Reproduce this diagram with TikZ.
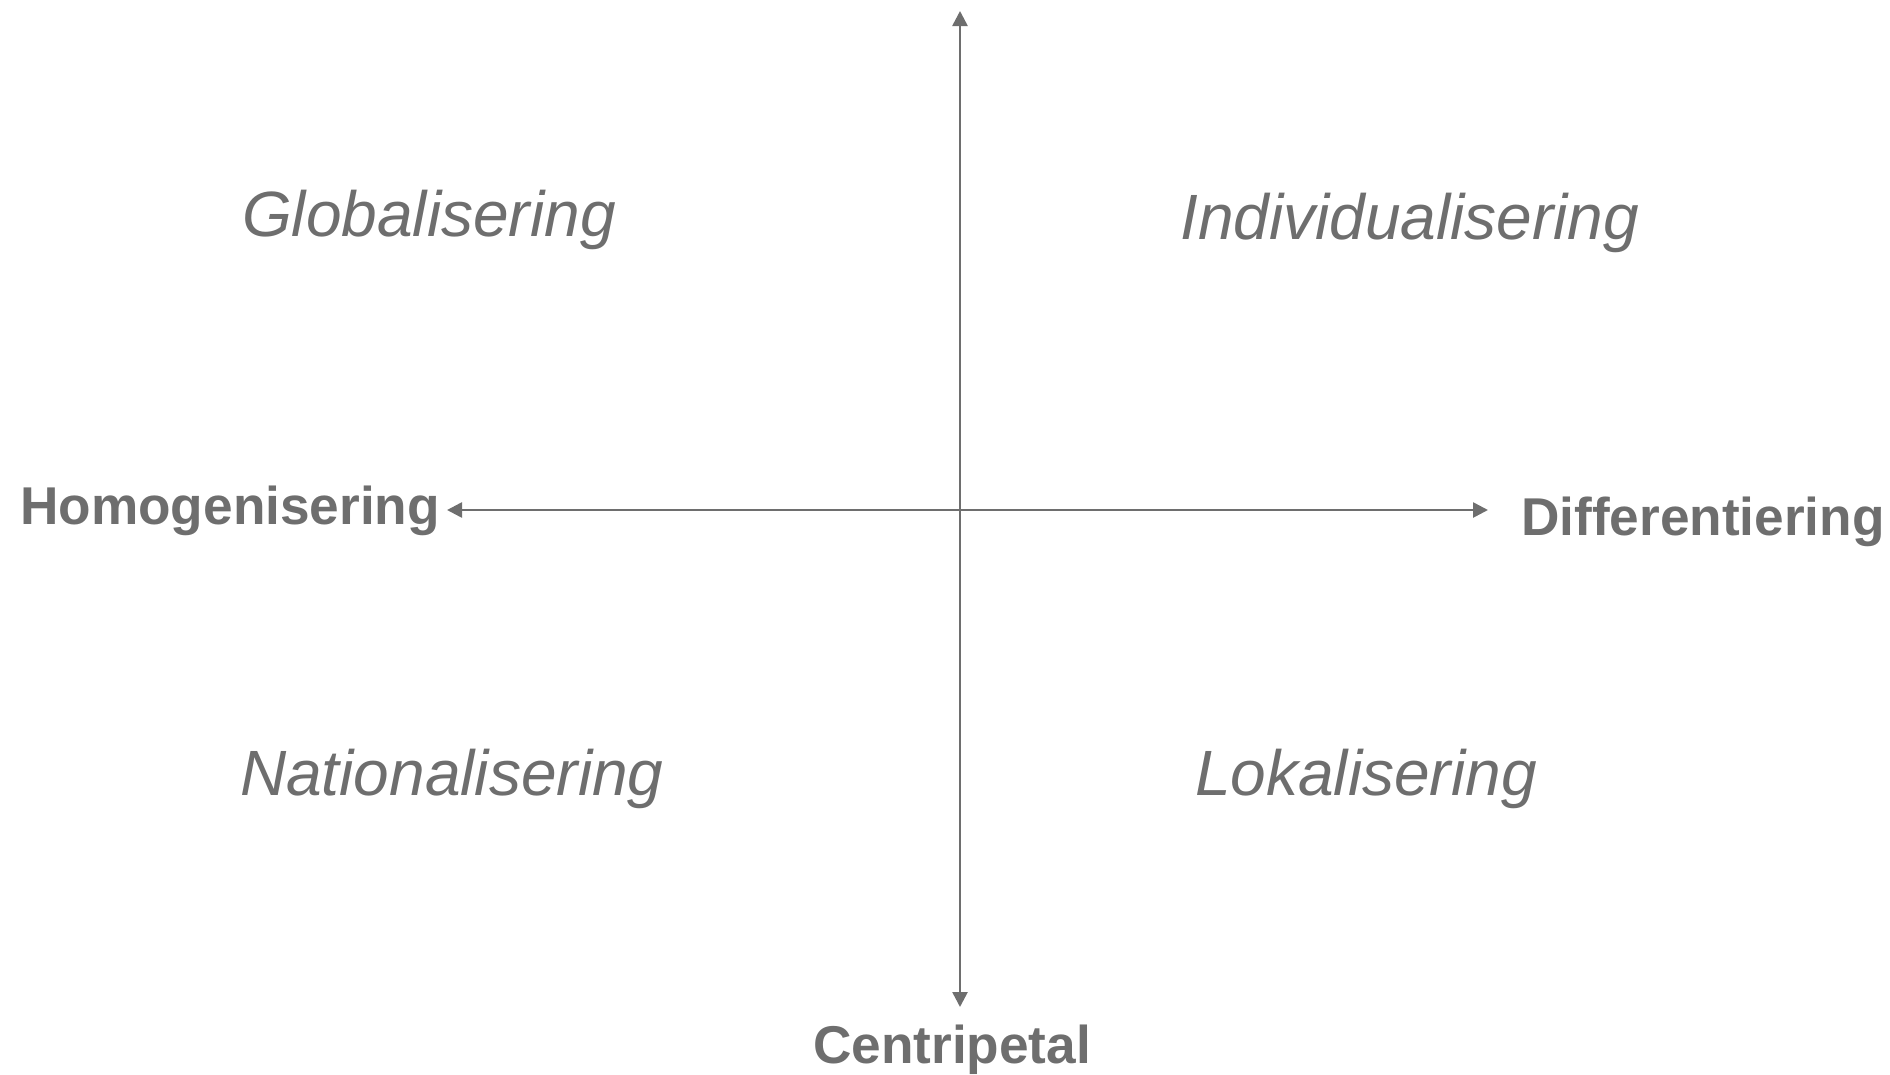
\documentclass[tikz,border=0pt]{standalone}
\usepackage{fontspec}
\setmainfont{Liberation Sans}
\usetikzlibrary{arrows.meta}
\definecolor{axisgray}{HTML}{6E6E6E}
\tikzset{
  axis/.style={draw=axisgray, line width=2.6pt, {Triangle[length=15pt,width=15pt]}-{Triangle[length=15pt,width=15pt]}},
  quad/.style={text=axisgray, inner sep=0pt, anchor=base west, font=\fontsize{64}{64}\selectfont\itshape},
  pole/.style={text=axisgray, inner sep=0pt, anchor=base west, font=\fontsize{53.2}{54}\selectfont\bfseries}
}
\begin{document}
\begin{tikzpicture}[x=1pt, y=-1pt]
\useasboundingbox (0,0) rectangle (1890,1074);
\coordinate (top) at (960,11);
\coordinate (bottom) at (960,1007);
\coordinate (left) at (447,510);
\coordinate (right) at (1488,510);
\draw[axis] (top) -- (bottom);
\draw[axis] (left) -- (right);
\node[quad] (glob) at (242,236) {Globalisering};
\node[quad] (indiv) at (1180,239) {Individualisering};
\node[quad] (nat) at (240,795) {Nationalisering};
\node[quad] (lok) at (1195,795) {Lokalisering};
\node[pole] (homo) at (20,524) {Homogenisering};
\node[pole] (diff) at (1521,535) {Differentiering};
\node[pole] (centri) at (813,1063) {Centripetal};
\end{tikzpicture}
\end{document}
